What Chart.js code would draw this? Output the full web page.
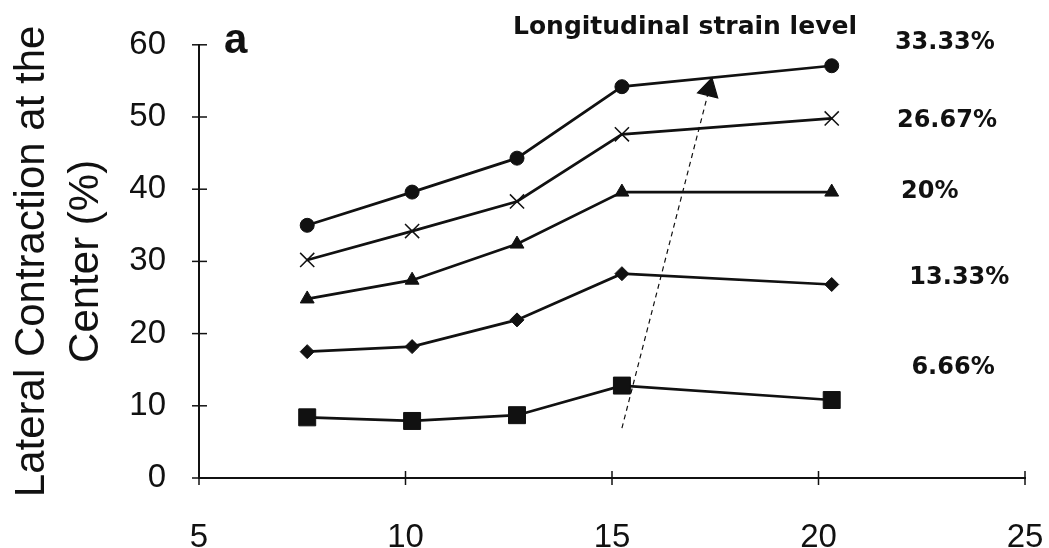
<!DOCTYPE html>
<html>
<head>
<meta charset="utf-8">
<script src="https://cdn.jsdelivr.net/npm/chart.js@4.4.1/dist/chart.umd.min.js"></script>
<style>
  body { margin: 0; background: #fff; }
  #wrap { width: 1049px; height: 548px; }
</style>
</head>
<body>
<div id="wrap"><canvas id="myChart" width="1049" height="548"></canvas></div>
<script>
// Datos
const xValues = [7.62, 10.16, 12.7, 15.24, 20.32];
const strain3333 = [35.0, 39.6, 44.3, 54.2, 57.1];
const strain2667 = [30.2, 34.2, 38.3, 47.6, 49.8];
const strain20 = [24.8, 27.4, 32.4, 39.6, 39.6];
const strain1333 = [17.5, 18.2, 21.9, 28.3, 26.8];
const strain666 = [8.4, 7.9, 8.7, 12.8, 10.8];
const strainLabels = ['33.33%', '26.67%', '20%', '13.33%', '6.66%'];
const arrowX = [15.24, 17.35];
const arrowY = [6.9, 53.8];
const xTicks = [5, 10, 15, 20, 25];
const yTicks = [0, 10, 20, 30, 40, 50, 60];

const ink = '#111';

function pts(ys) {
  return xValues.map((x, i) => ({ x: x, y: ys[i] }));
}

// marcas de los ejes que cruzan la línea
const crossTicks = {
  id: 'crossTicks',
  afterDraw(chart) {
    const ctx = chart.ctx;
    const xs = chart.scales.x, ys = chart.scales.y;
    ctx.save();
    ctx.strokeStyle = ink;
    ctx.lineWidth = 1.5;
    xTicks.forEach(v => {
      const px = xs.getPixelForValue(v);
      ctx.beginPath();
      ctx.moveTo(px, ys.bottom - 7);
      ctx.lineTo(px, ys.bottom + 7);
      ctx.stroke();
    });
    yTicks.forEach(v => {
      const py = ys.getPixelForValue(v);
      ctx.beginPath();
      ctx.moveTo(xs.left - 7, py);
      ctx.lineTo(xs.left + 8, py);
      ctx.stroke();
    });
    ctx.restore();
  }
};

// textos de la figura
const labelPos = [[21.85, 60.3], [21.9, 49.5], [22.0, 39.7], [22.2, 27.8], [22.25, 15.3]];
const annotations = {
  id: 'annotations',
  afterDraw(chart) {
    const ctx = chart.ctx;
    const xs = chart.scales.x, ys = chart.scales.y;
    ctx.save();
    ctx.fillStyle = ink;
    ctx.textBaseline = 'middle';
    ctx.textAlign = 'left';
    ctx.font = 'bold 24px "DejaVu Sans"';
    strainLabels.forEach((t, i) => {
      ctx.fillText(t, xs.getPixelForValue(labelPos[i][0]), ys.getPixelForValue(labelPos[i][1]));
    });
    ctx.font = 'bold 25px "DejaVu Sans"';
    ctx.fillText('Longitudinal strain level', 513, 27);
    ctx.font = 'bold 42px "Liberation Sans"';
    ctx.textBaseline = 'alphabetic';
    ctx.fillText('a', 224, 53);
    ctx.restore();
  }
};

const mk = (label, data, style, radius, filled) => ({
  label: label,
  data: pts(data),
  showLine: true,
  borderColor: ink,
  borderWidth: 2.7,
  pointStyle: style,
  pointRadius: radius,
  pointBorderWidth: filled ? 1 : 1.5,
  pointBackgroundColor: ink,
  pointBorderColor: ink
});

const myChart = new Chart(document.getElementById('myChart').getContext('2d'), {
  type: 'scatter',
  data: {
    datasets: [
      mk(strainLabels[0], strain3333, 'circle', 7, true),
      mk(strainLabels[1], strain2667, 'crossRot', 10, false),
      mk(strainLabels[2], strain20, 'triangle', 8, true),
      mk(strainLabels[3], strain1333, 'rectRot', 7, true),
      mk(strainLabels[4], strain666, 'rect', 12, true),
      {
        label: 'arrow',
        data: arrowX.map((x, i) => ({ x: x, y: arrowY[i] })),
        showLine: true,
        borderColor: ink,
        borderWidth: 1.2,
        borderDash: [5, 4],
        pointStyle: 'triangle',
        pointRadius: [0, 12],
        rotation: 14,
        pointBackgroundColor: ink,
        pointBorderColor: ink
      }
    ]
  },
  options: {
    responsive: false,
    animation: false,
    layout: { padding: { top: 43, right: 0, left: 0, bottom: 0 } },
    plugins: {
      legend: { display: false },
      tooltip: { enabled: false }
    },
    scales: {
      x: {
        type: 'linear',
        min: 5,
        max: 25,
        grid: { display: false },
        border: { display: true, color: ink, width: 2 },
        ticks: {
          stepSize: 5,
          padding: 32,
          color: ink,
          font: { family: 'Liberation Sans', size: 33 }
        },
        afterFit(scale) {
          scale.height = 70;
          scale.paddingLeft = 20;
          scale.paddingRight = 24;
        }
      },
      y: {
        min: 0,
        max: 60,
        grid: { display: false },
        border: { display: true, color: ink, width: 2 },
        ticks: {
          stepSize: 10,
          padding: 25,
          color: ink,
          font: { family: 'Liberation Sans', size: 33 }
        },
        title: {
          display: true,
          text: ['Lateral Contraction at the', 'Center (%)'],
          color: ink,
          padding: { top: 5, bottom: 0 },
          font: { family: 'Liberation Sans', size: 42, lineHeight: 1.3 }
        },
        afterFit(scale) { scale.width = 199; }
      }
    }
  },
  plugins: [crossTicks, annotations]
});
</script>
</body>
</html>
